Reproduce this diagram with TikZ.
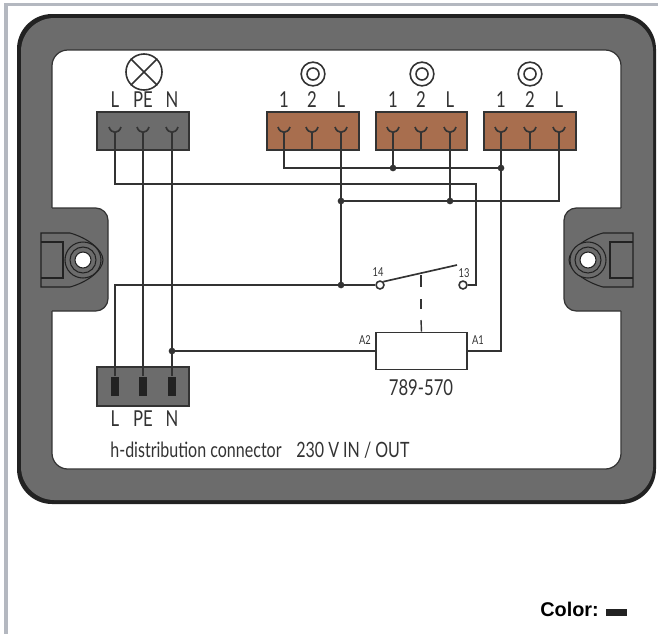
\documentclass[tikz,border=0pt]{standalone}
\usepackage{fontspec}
\setmainfont[FakeStretch=0.76]{Lato}
\newfontfamily\colorfont[Scale=1]{Liberation Sans}
\usetikzlibrary{calc}
\definecolor{housing}{HTML}{6C6C6C}
\definecolor{edge}{HTML}{222222}
\definecolor{wirecol}{HTML}{333333}
\definecolor{terminal}{HTML}{A86E4E}
\definecolor{pagerule}{HTML}{B4B8C0}
\begin{document}
\begin{tikzpicture}[ x=0.2mm, y=-0.2mm,
      wire/.style={ line width=0.95pt, draw=wirecol},
      thin line/.style={ line width=0.7pt, draw=wirecol},
      block/.style={ draw=wirecol, line width=0.8pt},
      soldot/.style={ circle, fill=wirecol, inner sep=0pt, minimum size=3.8pt},
      contact/.style={ circle, draw=wirecol, fill=white, line width=0.9pt, inner sep=0pt, minimum size=4.5pt},
      label/.style={ text=wirecol, font=\fontsize{12.5}{13}\selectfont, inner sep=0pt},
      small label/.style={ text=wirecol, font=\fontsize{7}{7}\selectfont, inner sep=0pt},
      earpart/.style={ line width=0.6pt, draw=edge}
      ]
      \useasboundingbox (0,0) rectangle (658,634);
      \fill[white] (0,0) rectangle (658,634);
      % page rule
      \fill[pagerule] (4,3) rectangle (658,6);
      \fill[pagerule] (4,3) rectangle (8,634);

      % housing
      \fill[edge, rounded corners=20pt] (17,14) rectangle (656,504);
      \fill[housing, rounded corners=19pt] (21,18) rectangle (653,500);
      \draw[fill=white, thin line, rounded corners=9pt] (52,50) rectangle (621,469);

      % ears
      \fill[housing, rounded corners=7pt] (40,208) rectangle (108,311);
      \draw[thin line, rounded corners=7pt] (52,208) -- (108,208) -- (108,311) -- (52,311);
      \fill[housing, rounded corners=7pt] (564,208) rectangle (633,311);
      \draw[thin line, rounded corners=7pt] (621,208) -- (564,208) -- (564,311) -- (621,311);

      % left clamp
      \draw[earpart] (41,233) -- (70,233) .. controls (88,238) and (103,250) .. (103,260) .. controls (103,270) and (88,282) .. (70,287) -- (41,287) -- cycle;
      \draw[earpart] (41,242) -- (63,242) -- (63,278) -- (41,278);
      \draw[earpart, fill=housing] (83,260) circle [radius=18];
      \draw[earpart] (83,260) circle [radius=13];
      \draw[earpart, fill=white] (83,260) circle [radius=8];
      % right clamp
      \draw[earpart] (633,233) -- (603,233) .. controls (585,238) and (569,250) .. (569,260) .. controls (569,270) and (585,282) .. (603,287) -- (633,287) -- cycle;
      \draw[earpart] (633,242) -- (610,242) -- (610,278) -- (633,278);
      \draw[earpart, fill=housing] (588,260) circle [radius=18];
      \draw[earpart] (588,260) circle [radius=13];
      \draw[earpart, fill=white] (588,260) circle [radius=8];

      % terminal blocks
      \draw[block, fill=housing] (97,112) rectangle (189,150);
      \draw[block, fill=terminal] (267,112) rectangle (359,150);
      \draw[block, fill=terminal] (376,112) rectangle (467,150);
      \draw[block, fill=terminal] (484,112) rectangle (576,150);
      \draw[block, fill=housing] (97,367) rectangle (189,406);

      % terminals and their labels
      \foreach \name/\xpos/\txt in {gL/115/L,gPE/143/PE,gN/172/N,
          aA/284/1,aB/312/2,aC/341/L,bA/393/1,bB/421/2,bC/450/L,cA/501/1,cB/530/2,cC/559/L}{
        \coordinate (\name) at (\xpos,132);
        \node[label] (lab\name) at (\xpos,100) {\txt};
        \draw[wire] (\xpos-6,127) .. controls (\xpos-4,134) and (\xpos+4,134) .. (\xpos+6,127);
        \draw[wire] (\xpos,132) -- (\xpos,150);
      }
      \foreach \name/\xpos/\txt in {hL/115/L,hPE/143/PE,hN/172/N}{
        \node[fill=edge, minimum width=4.5pt, minimum height=11pt, inner sep=0pt] (\name) at (\xpos,386.5) {};
        \node[label] (lab\name) at (\xpos,419) {\txt};
      }

      % lamp
      \node[draw=wirecol, circle, line width=0.9pt, minimum size=20.5pt, inner sep=0pt] (lamp) at (144,72) {};
      \draw[wire] (lamp.45) -- (lamp.225);
      \draw[wire] (lamp.135) -- (lamp.315);

      % rings
      \foreach \name/\xpos in {ringA/313,ringB/422,ringC/530}{
        \node[draw=wirecol, circle, line width=0.9pt, minimum size=13.5pt, inner sep=0pt] (\name) at (\xpos,74) {};
        \draw[wirecol, line width=0.9pt] (\name) circle [radius=6];
      }

      % junctions
      \coordinate (JA) at (393,168);
      \coordinate (JB) at (501,168);
      \coordinate (JC) at (341,201);
      \coordinate (JD) at (450,201);
      \coordinate (JE) at (341,285);
      \coordinate (JF) at (172,351);
      \coordinate (cornerA) at (476,184);
      \coordinate (cornerB) at (559,201);

      % relay
      \node[draw=wirecol, fill=white, line width=0.95pt, minimum width=51.5pt, minimum height=21pt, inner sep=0pt] (coil) at (421.5,351) {};
      \node[contact] (cFour) at (380,285) {};
      \node[contact] (cThree) at (463,285) {};
      \coordinate (swTip) at (457,265);
      \coordinate (swMid) at (421,275);

      % wiring
      \draw[wire] (aA) -- (284,168) -- (JB);
      \draw[wire] (bA) -- (JA);
      \draw[wire] (cA) -- (501,351) -- (coil.east);
      \draw[wire] (gL) -- (115,184) -- (cornerA) |- (cThree.east);
      \draw[wire] (JC) -- (cornerB) -- (cC);
      \draw[wire] (aC) -- (JE);
      \draw[wire] (bC) -- (JD);
      \draw[wire] (hL) -- (115,285) -- (cFour.west);
      \draw[wire] (gPE) -- (hPE);
      \draw[wire] (gN) -- (hN);
      \draw[wire] (JF) -- (coil.west);

      \foreach \j in {JA,JB,JC,JD,JE,JF}{
        \node[soldot] at (\j) {};
      }

      % switch
      \draw[wire] (cFour.north east) -- (swTip);
      \draw[wire, line width=0.8pt] (swMid) -- (421,287);
      \draw[wire, line width=0.8pt] (421,299) -- (421,309);
      \draw[wire, line width=0.8pt] (421,320) -- (coil.north);

      % texts
      \node[small label] (labFour) at (378,272) {14};
      \node[small label] (labThree) at (464,273) {13};
      \node[small label] (labAtwo) at (365,340) {A2};
      \node[small label] (labAone) at (478,340) {A1};
      \node[label] (labType) at (421,388) {789-570};
      \node[label, anchor=west, font=\fontsize{12}{13}\selectfont] (labTitle) at (110,450) {h-distribution connector\hspace{0.5em} 230 V IN / OUT};
      \node[inner sep=0pt, anchor=west, font=\colorfont\bfseries\fontsize{11.3}{12}\selectfont] (labColor) at (540,609) {Color:};
      \fill[edge] (606,609) rectangle (627,616);
    \end{tikzpicture}
\end{document}
